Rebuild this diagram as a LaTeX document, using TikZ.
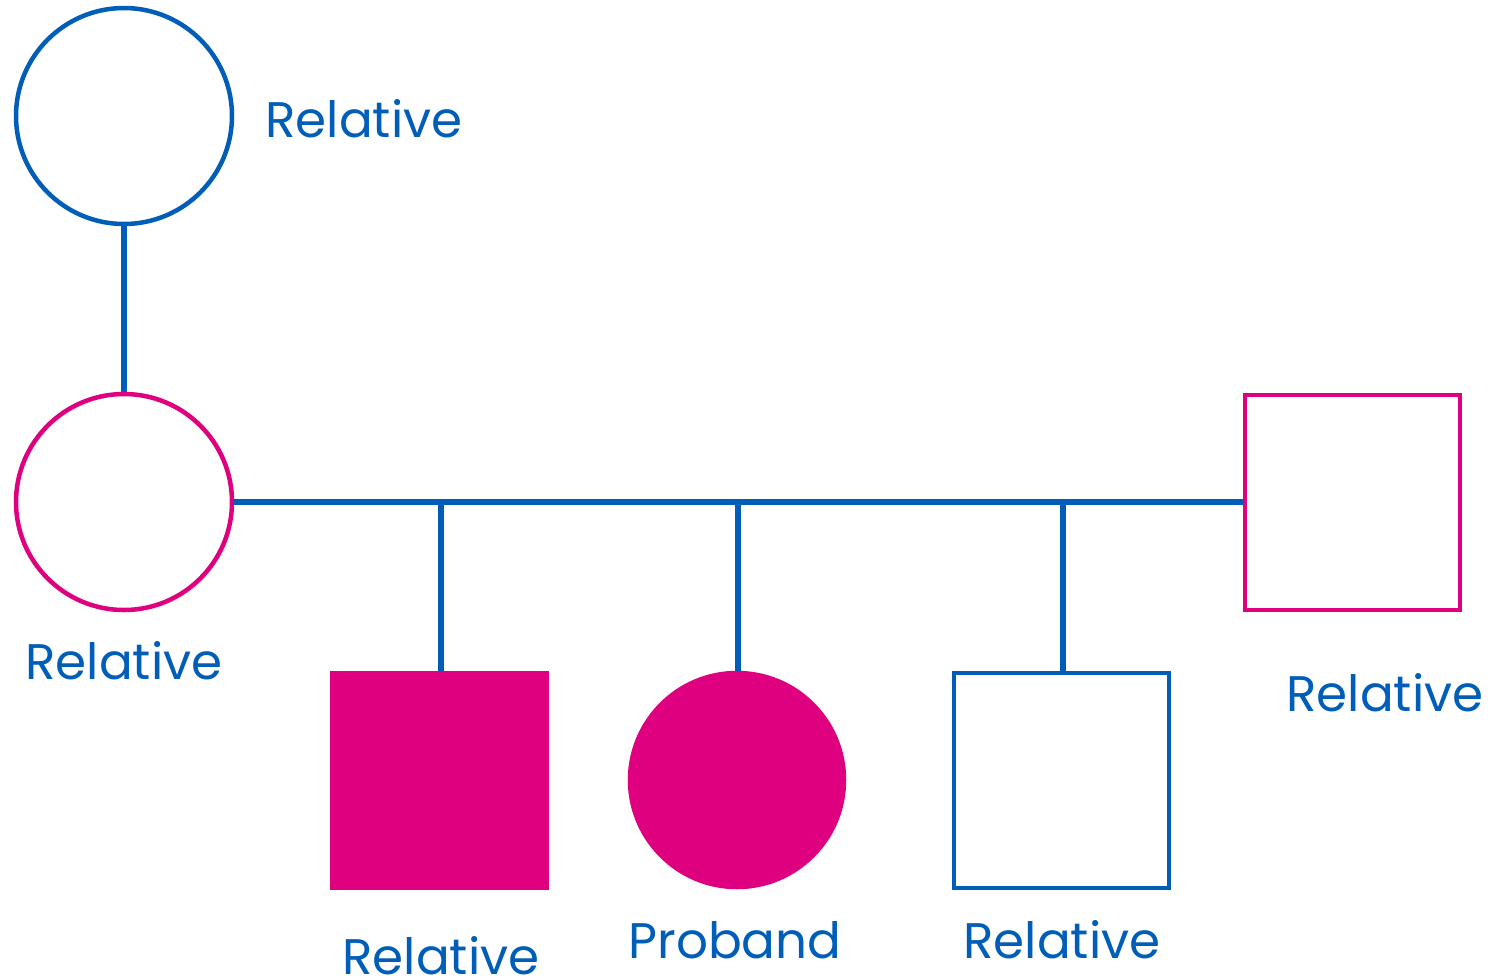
\documentclass[tikz,border=0pt]{standalone}
\usepackage{fontspec}
\setmainfont{Poppins}
\definecolor{pblue}{RGB}{0,94,184}
\definecolor{pmag}{RGB}{222,0,126}
\begin{document}
\begin{tikzpicture}[x=1pt,y=-1pt,
  line/.style={draw=pblue,line width=5.5pt},
  female/.style={circle,minimum size=216pt,inner sep=0pt,line width=4.5pt},
  male/.style={rectangle,minimum size=215pt,inner sep=0pt,line width=4pt},
  lbl/.style={text=pblue,font=\fontsize{50}{54}\selectfont,inner sep=0pt}]
\useasboundingbox (0,0) rectangle (1493,978);
\node[female,draw=pblue] (gm) at (124,116) {};
\node[female,draw=pmag] (mo) at (124,502) {};
\node[male,draw=pmag] (fa) at (1352,502) {};
\node[male,fill=pmag,draw=pmag] (s1) at (439,780) {};
\node[female,fill=pmag,draw=pmag,minimum size=214pt] (pb) at (737,780) {};
\node[male,draw=pblue] (s3) at (1061,780) {};
\coordinate (j1) at (441,502);
\coordinate (j2) at (738,502);
\coordinate (j3) at (1063,502);
\draw[line] (gm.south) -- (mo.north);
\draw[line] (mo.east) -- (fa.west);
\draw[line] (j1) -- (j1 |- s1.north);
\draw[line] (j2) -- (j2 |- pb.north);
\draw[line] (j3) -- (j3 |- s3.north);
\node[lbl,anchor=base] (l1) at (364,137) {Relative};
\node[lbl,anchor=base] (l2) at (124,679) {Relative};
\node[lbl,anchor=base] (l3) at (441,974) {Relative};
\node[lbl,anchor=base] (l4) at (735,958) {Proband};
\node[lbl,anchor=base] (l5) at (1062,958) {Relative};
\node[lbl,anchor=base] (l6) at (1385,711) {Relative};
\end{tikzpicture}
\end{document}
